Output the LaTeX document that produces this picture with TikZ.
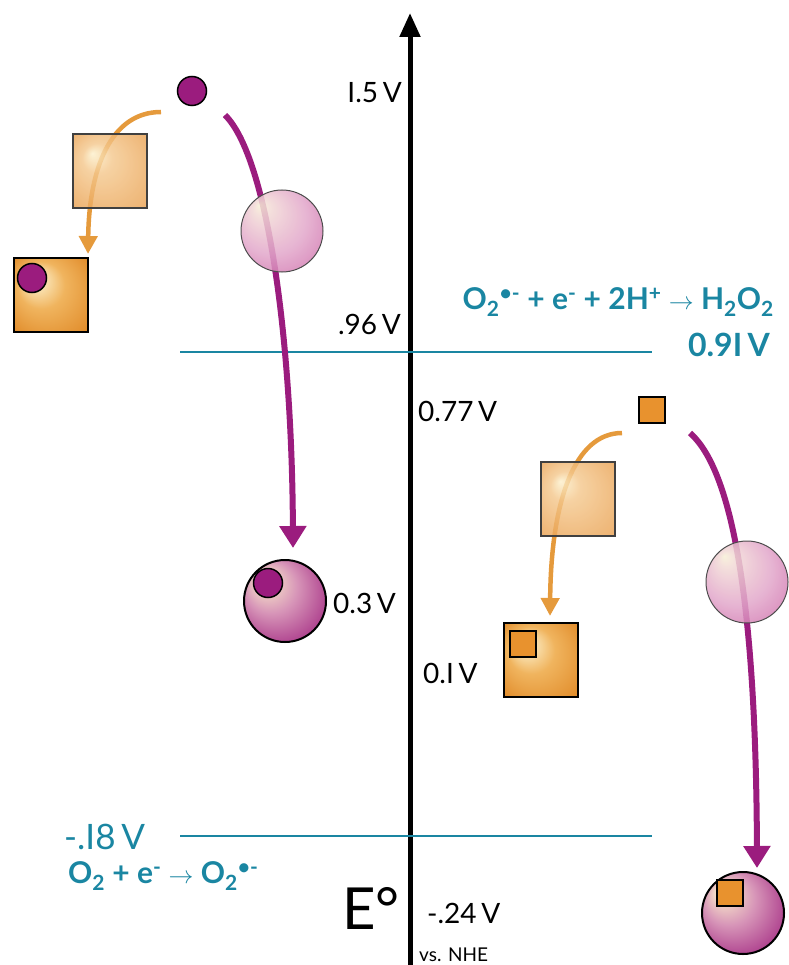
\documentclass[tikz,border=0pt]{standalone}
\usepackage{fontspec}
\setmainfont{Lato}
\usetikzlibrary{arrows.meta}
\definecolor{plum}{HTML}{9B1C7E}
\definecolor{orng}{HTML}{E8922E}
\definecolor{orarrow}{HTML}{E59A3C}
\definecolor{teal}{HTML}{1A86A2}
\definecolor{cream}{HTML}{F5E0C8}
\definecolor{pinkmid}{HTML}{D795B8}
\definecolor{pinkdeep}{HTML}{B04590}
\definecolor{plumdark}{HTML}{8E1A70}
\definecolor{lcream}{HTML}{F7EFD6}
\definecolor{lpink0}{HTML}{F2DAD6}
\definecolor{lpink}{HTML}{E2A6CA}
\definecolor{lplum}{HTML}{C6589F}
\definecolor{sqhi}{HTML}{FBEBC2}
\definecolor{sqmid}{HTML}{F0B45E}
\definecolor{sqlo}{HTML}{E08A28}
\definecolor{lsqhi}{HTML}{FCF0CC}
\definecolor{lsqmid}{HTML}{F4C88E}
\definecolor{lsqlo}{HTML}{E9A050}
\pgfdeclareradialshading{pball}{\pgfpoint{-14bp}{14bp}}{color(0bp)=(cream); color(4bp)=(cream); color(16bp)=(pinkmid); color(30bp)=(pinkdeep); color(42bp)=(plumdark)}
\pgfdeclareradialshading{lball}{\pgfpoint{-14bp}{16bp}}{color(0bp)=(lcream); color(5bp)=(lpink0); color(22bp)=(lpink); color(42bp)=(lplum)}
\pgfdeclareradialshading{sqsh}{\pgfpoint{-12bp}{12bp}}{color(0bp)=(sqhi); color(4bp)=(sqhi); color(16bp)=(sqmid); color(36bp)=(sqlo)}
\pgfdeclareradialshading{lsqsh}{\pgfpoint{-12bp}{12bp}}{color(0bp)=(lsqhi); color(10bp)=(lsqmid); color(36bp)=(lsqlo)}
\begin{document}
\begin{tikzpicture}[x=1pt,y=-1pt,
  lab/.style={font=\fontsize{28}{30}\selectfont, inner sep=0pt, text=black},
  tlab/.style={font=\fontsize{30}{32}\selectfont\bfseries, inner sep=0pt, text=teal},
  tline/.style={draw=teal, line width=2.8pt},
  purparrow/.style={draw=plum, line width=6pt, -{Triangle[width=26pt,length=22pt]}},
  orarrowst/.style={draw=orarrow, line width=4.5pt, -{Triangle[width=18pt,length=18pt]}},
  smallball/.style={circle, fill=plum, draw=black, line width=1.5pt, minimum size=29pt, inner sep=0pt},
  smallsq/.style={rectangle, fill=orng, draw=black, line width=1.5pt, minimum size=26pt, inner sep=0pt},
  bigball/.style={circle, shading=pball, draw=black, line width=2pt, minimum size=82pt, inner sep=0pt},
  lightball/.style={circle, shading=lball, fill opacity=0.85, draw=black!70, line width=1pt, minimum size=82pt, inner sep=0pt},
  bigsq/.style={rectangle, shading=sqsh, draw=black, line width=2pt, minimum size=74pt, inner sep=0pt},
  lightsq/.style={rectangle, shading=lsqsh, fill opacity=0.82, draw=black!75, line width=1.2pt, minimum size=74pt, inner sep=0pt}
]
\useasboundingbox (0,0) rectangle (788,965);
% axis
\coordinate (axb) at (410,965);
\coordinate (axt) at (410,13);
\draw[line width=5pt, -{Triangle[width=20pt,length=24pt]}] (axb) -- (axt);
% teal lines
\coordinate (t1a) at (180,352); \coordinate (t1b) at (652,352);
\coordinate (t2a) at (180,836); \coordinate (t2b) at (652,836);
\draw[tline] (t1a) -- (t1b);
\draw[tline] (t2a) -- (t2b);
% labels
\node[lab, anchor=east] (l15) at (402,93) {I.5\,V};
\node[lab, anchor=east] (l96) at (401,324) {.96\,V};
\node[lab, anchor=west] (l77) at (418,411) {0.77\,V};
\node[lab, anchor=west] (l03) at (333,603) {0.3\,V};
\node[lab, anchor=west] (l01) at (423,673) {0.I\,V};
\node[lab, anchor=west] (l24) at (427,913) {-.24\,V};
\node[font=\fontsize{19}{21}\selectfont, inner sep=0pt, anchor=west] (nhe) at (419,955) {vs. NHE};
\node[font=\fontsize{58}{60}\selectfont, inner sep=0pt, anchor=east] (E) at (400,908) {E°};
\node[tlab, anchor=east] (eq1) at (774,302) {O\textsubscript{2}\textsuperscript{\textbullet-} + e\textsuperscript{-} + 2H\textsuperscript{+} $\rightarrow$ H\textsubscript{2}O\textsubscript{2}};
\node[tlab, font=\fontsize{32}{34}\selectfont\bfseries, anchor=east] (v91) at (770,345) {0.9I\,V};
\node[tlab, font=\fontsize{35}{37}\selectfont, anchor=west] (v18) at (64,837) {-.I8\,V};
\node[tlab, anchor=west] (eq2) at (68,876) {O\textsubscript{2} + e\textsuperscript{-} $\rightarrow$ O\textsubscript{2}\textsuperscript{\textbullet-}};
% left cycle
\coordinate (pa1s) at (225,115); \coordinate (pa1e) at (293,548);
\draw[purparrow] (pa1s) .. controls (268,158) and (292,340) .. (pa1e);
\coordinate (oa1s) at (161,112); \coordinate (oa1e) at (88,254);
\draw[orarrowst] (oa1s) .. controls (110,112) and (89,170) .. (oa1e);
\node[smallball] (c1) at (192,91) {};
\node[lightsq] (lsq1) at (110,171) {};
\node[lightball] (lb1) at (282,231) {};
\node[bigsq] (sq1) at (51,295) {};
\node[smallball] (c1in) at (32,278) {};
\node[bigball] (b1) at (285,601) {};
\node[smallball] (b1in) at (268,583) {};
% right cycle
\coordinate (pa2s) at (690,433); \coordinate (pa2e) at (757,868);
\draw[purparrow] (pa2s) .. controls (732,470) and (756,600) .. (pa2e);
\coordinate (oa2s) at (622,433); \coordinate (oa2e) at (550,616);
\draw[orarrowst] (oa2s) .. controls (575,433) and (551,500) .. (oa2e);
\node[smallsq] (s2) at (652,410) {};
\node[lightsq] (lsq2) at (578,499) {};
\node[lightball] (lb2) at (747,582) {};
\node[bigsq] (sq2) at (541,660) {};
\node[smallsq] (sq2in) at (523,644) {};
\node[bigball] (b2) at (743,913) {};
\node[smallsq] (b2in) at (730,893) {};
\end{tikzpicture}
\end{document}
